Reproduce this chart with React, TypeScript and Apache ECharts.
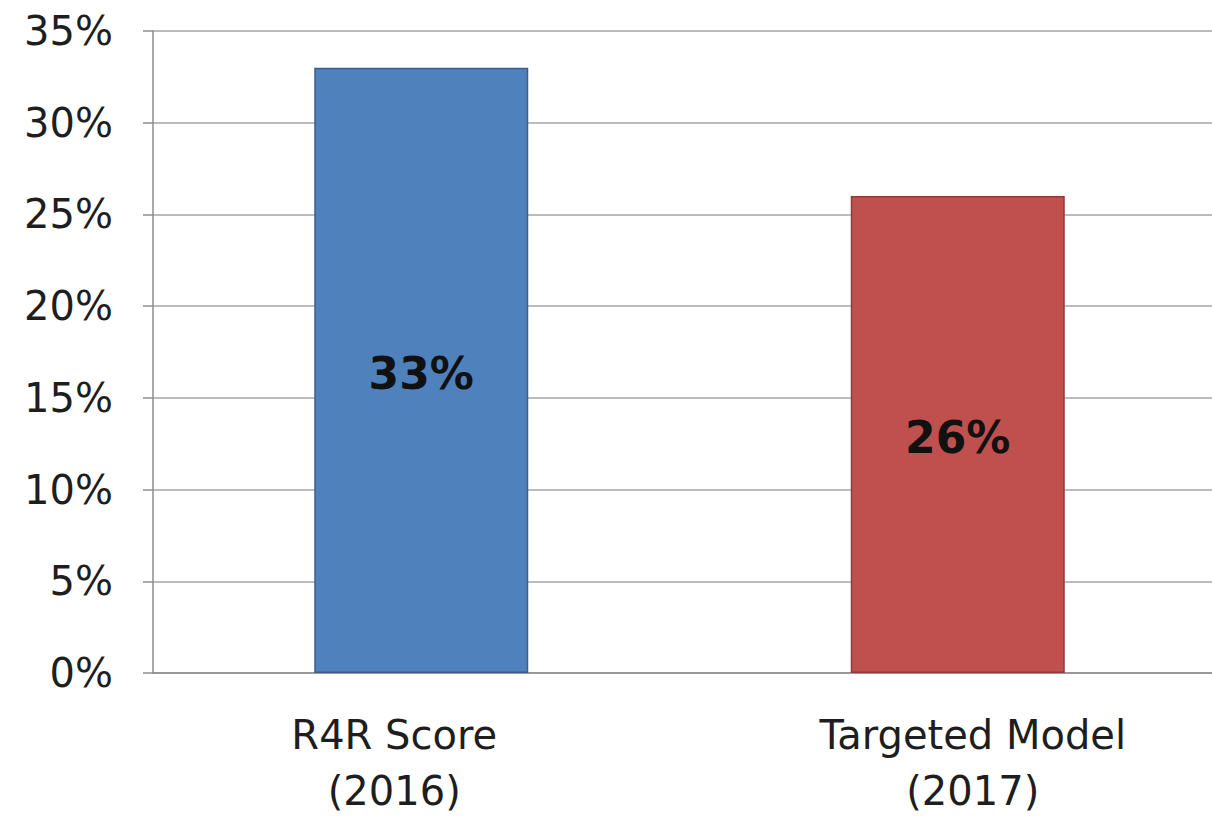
import React, { useEffect, useRef } from "react";
import * as echarts from "echarts";

// Chart content
const categories = ["R4R Score\n(2016)", "Targeted Model\n(2017)"];
const values = [33, 26];
const barColors = ["#4F81BD", "#C0504D"];
const barBorders = ["#3A5F8C", "#8E3B39"];
const yTicks = [0, 5, 10, 15, 20, 25, 30, 35];

// Horizontal nudges of the category labels (px)
const labelShift = [-27, 15];

export default function App() {
  const ref = useRef<HTMLDivElement>(null);

  useEffect(() => {
    if (!ref.current) return;
    const chart = echarts.init(ref.current, undefined, { renderer: "svg" });
    const font = "'DejaVu Sans', Verdana, sans-serif";

    chart.setOption({
      animation: false,
      backgroundColor: "#ffffff",
      grid: { left: 153, right: 0, top: 31, bottom: 141, containLabel: false },
      xAxis: {
        type: "category",
        data: categories.map((c, i) => {
          const s = labelShift[i];
          return {
            value: c,
            textStyle: {
              padding: s < 0 ? [0, -2 * s, 0, 0] : [0, 0, 0, 2 * s],
            },
          };
        }),
        axisLine: { lineStyle: { color: "#8c8c8c", width: 1.5 } },
        axisTick: { show: false },
        axisLabel: {
          color: "#1e1e1e",
          fontFamily: font,
          fontSize: 40,
          lineHeight: 56,
          margin: 34,
        },
      },
      yAxis: {
        type: "value",
        min: yTicks[0],
        max: yTicks[yTicks.length - 1],
        interval: 5,
        axisLine: { show: true, lineStyle: { color: "#8c8c8c", width: 1.5 } },
        axisTick: { show: true, length: 10, lineStyle: { color: "#8c8c8c", width: 1.5 } },
        splitLine: { lineStyle: { color: "#a6a6a6", width: 1.5 } },
        axisLabel: {
          color: "#1e1e1e",
          fontFamily: font,
          fontSize: 40,
          margin: 40,
          formatter: "{value}%",
        },
      },
      series: [
        {
          type: "bar",
          barWidth: 214,
          data: values.map((v, i) => ({
            value: v,
            itemStyle: { color: barColors[i], borderColor: barBorders[i], borderWidth: 1.5 },
          })),
          label: {
            show: true,
            position: "inside",
            offset: [0, 3],
            formatter: "{c}%",
            color: "#111111",
            fontFamily: font,
            fontWeight: "bold",
            fontSize: 44,
          },
        },
      ],
    });

    return () => chart.dispose();
  }, []);

  return (
    <div
      style={{
        position: "fixed",
        left: 0,
        top: 0,
        width: 1212,
        height: 819,
        overflow: "hidden",
        background: "#ffffff",
      }}
    >
      <div ref={ref} style={{ width: 1226, height: 819 }} />
    </div>
  );
}
